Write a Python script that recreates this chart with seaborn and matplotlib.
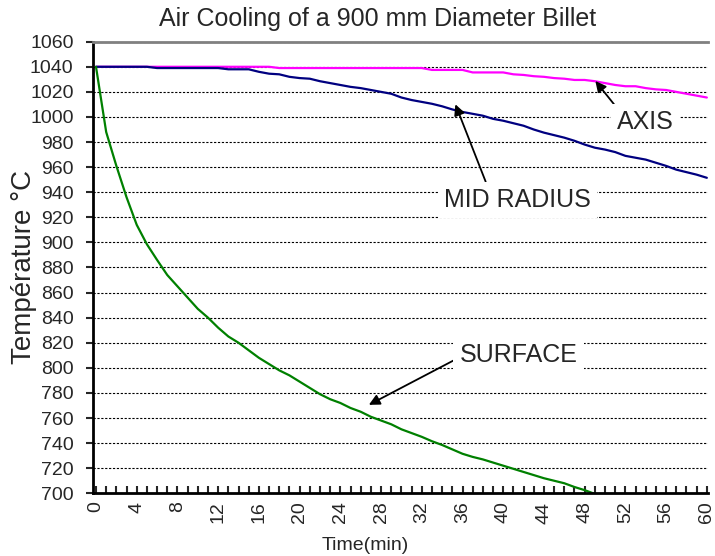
import matplotlib
matplotlib.use('Agg')
import matplotlib.pyplot as plt
from matplotlib.ticker import MultipleLocator
import numpy as np
import pandas as pd
import seaborn as sns

sns.set_style('white')
plt.rcParams['font.family'] = ['Liberation Sans', 'DejaVu Sans']

# temperatures, one point per minute
time_min = list(range(61))
axis_temp = [1040, 1040, 1040, 1040, 1040, 1040, 1040, 1040, 1040, 1040,
             1040, 1040, 1040, 1040, 1040, 1040, 1040, 1040, 1039, 1039,
             1039, 1039, 1039, 1039, 1039, 1039, 1039, 1039, 1039, 1039,
             1039, 1039, 1039, 1037.5, 1037.5, 1037.5, 1037.5, 1035.5, 1035.5, 1035.5,
             1035.5, 1034, 1033.5, 1032.5, 1032, 1031, 1030.5, 1029.5, 1029.5, 1028.5,
             1027, 1025.5, 1024.5, 1024.5, 1023, 1022, 1021.5, 1020, 1018.5, 1017,
             1015.5]
mid_radius_temp = [1040, 1040, 1040, 1040, 1040, 1040, 1039, 1039, 1039, 1039,
                   1039, 1039, 1039, 1038, 1038, 1038, 1036, 1034.5, 1034, 1032,
                   1031, 1030.5, 1028.5, 1027, 1025.5, 1024, 1023, 1021.5, 1020, 1018.5,
                   1015.5, 1013.5, 1012, 1010.5, 1008.5, 1006, 1004, 1002.5, 1001, 998.5,
                   997, 995, 993, 990, 987.5, 985.5, 983.5, 981, 978, 975.5,
                   974, 972, 969, 967.5, 966, 963.5, 961, 958, 956, 954,
                   951.5]
surface_time = list(range(50))
surface_temp = [1040, 988, 961, 936, 914, 898.5, 886, 874, 865, 856,
                847, 840, 832, 825, 820, 814, 808, 803, 798, 794,
                789, 784, 779, 775, 772, 768, 765, 761, 758, 755,
                751, 748, 745, 741.5, 738.5, 735, 731.5, 729, 727, 724.5,
                722, 719.5, 717, 714.5, 712, 710, 708, 705, 702.5, 699.5]

series_names = ['AXIS', 'MID RADIUS', 'SURFACE']
series_colors = ['#FF00FF', '#000080', '#008000']

df = pd.concat([
    pd.DataFrame({'time': time_min, 'temp': axis_temp, 'series': 'AXIS'}),
    pd.DataFrame({'time': time_min, 'temp': mid_radius_temp, 'series': 'MID RADIUS'}),
    pd.DataFrame({'time': surface_time, 'temp': surface_temp, 'series': 'SURFACE'}),
], ignore_index=True)

fig = plt.figure(figsize=(7.15, 5.56), dpi=100)
ax = fig.add_axes([0.130, 0.1128, 0.860, 0.8122])

sns.lineplot(data=df, x='time', y='temp', hue='series', hue_order=series_names,
             palette=series_colors, linewidth=1.6, legend=False, ax=ax)

ax.set_xlim(-0.3, 60.1)
ax.set_ylim(700, 1060)
ax.yaxis.set_major_locator(MultipleLocator(20))
ax.xaxis.set_major_locator(MultipleLocator(4))
ax.xaxis.set_minor_locator(MultipleLocator(1))
ax.yaxis.grid(True, color='black', linestyle=(0, (2, 1.5)), linewidth=0.8)
ax.set_axisbelow(True)

for s in ['left', 'bottom']:
    ax.spines[s].set_color('black')
    ax.spines[s].set_linewidth(2)
ax.spines['top'].set_color('#808080')
ax.spines['top'].set_linewidth(2)
ax.spines['right'].set_visible(False)

ax.tick_params(axis='y', which='major', left=True, direction='out', length=5, width=1.5,
               labelsize=14, pad=9)
ax.tick_params(axis='x', which='both', bottom=True, direction='in', length=5, width=1.5,
               labelsize=14, pad=6)
plt.setp(ax.get_xticklabels(), rotation=90)
ax.set_xlabel('')
ax.set_ylabel('')

fig.text(0.528, 1 - 19 / 556, 'Air Cooling of a 900 mm Diameter Billet',
         ha='center', va='center', fontsize=18)
fig.text(24 / 715, 1 - 266.5 / 556, 'Température °C', rotation=90,
         ha='center', va='center', fontsize=20)
fig.text(365 / 715, 1 - 545 / 556, 'Time(min)', ha='center', va='center', fontsize=14)

box = dict(boxstyle='square,pad=0.25', fc='white', ec='none')
arrow = dict(arrowstyle='-|>', color='black', lw=1.3, mutation_scale=16,
             shrinkA=0, shrinkB=0)
ax.annotate('AXIS', xy=(49.05, 1028.7), xytext=(54.0, 995.6), ha='center', va='center',
            fontsize=18, bbox=box, arrowprops=dict(arrow, relpos=(0.03, 1.0)))
ax.annotate('MID RADIUS', xy=(35.3, 1010.1), xytext=(41.4, 933.9), ha='center',
            va='center', fontsize=18, bbox=box, arrowprops=dict(arrow, relpos=(0.3, 1.0)))
ax.annotate('SURFACE', xy=(26.8, 770.5), xytext=(41.5, 810.3), ha='center', va='center',
            fontsize=18, bbox=box, arrowprops=dict(arrow, relpos=(0.0, 0.4)))

plt.savefig('out.png', dpi=100)
